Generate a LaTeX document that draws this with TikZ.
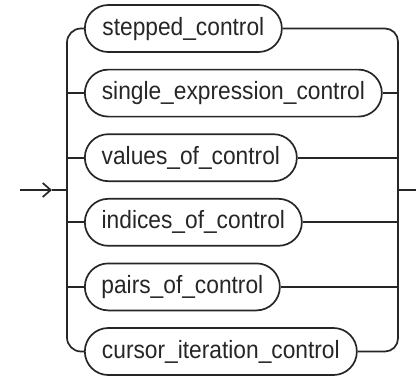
\documentclass[tikz,border=0pt]{standalone}
\usepackage{fontspec}
\setmainfont{Liberation Sans}
\usetikzlibrary{arrows.meta}
\begin{document}
\begin{tikzpicture}[x=1pt,y=-1pt,
  line/.style={line width=1.7pt, draw=black!85},
  term/.style={line, rounded corners=23.4pt, minimum height=47pt, anchor=west, inner sep=0pt,
    text height=18pt, text depth=5pt, font=\fontsize{25}{30}\selectfont, text=black!85},
]
\useasboundingbox (0,0) rectangle (416,378);
\node[term, minimum width=197pt] (n1) at (84,28.5)  {\scalebox{0.91}[1]{stepped\_control}};
\node[term, minimum width=297pt] (n2) at (84,93.1)  {\scalebox{0.91}[1]{single\_expression\_control}};
\node[term, minimum width=212pt] (n3) at (84,157.7) {\scalebox{0.91}[1]{values\_of\_control}};
\node[term, minimum width=217pt] (n4) at (84,222.3) {\scalebox{0.91}[1]{indices\_of\_control}};
\node[term, minimum width=195pt] (n5) at (84,286.9) {\scalebox{0.91}[1]{pairs\_of\_control}};
\node[term, minimum width=272pt] (n6) at (84,351.5) {\scalebox{0.91}[1]{cursor\_iteration\_control}};
\coordinate (start) at (20,190);
\coordinate (tip) at (52,190);
\coordinate (L) at (67,190);
\coordinate (R) at (398,190);
\coordinate (end) at (416,190);
% entry
\draw[line, -{Straight Barb[length=8pt,width=14pt]}] (start) -- (tip);
\draw[line] (tip) -- (L);
% left side
\draw[line, rounded corners=14pt] (L) |- (n1.west);
\draw[line, rounded corners=14pt] (L) |- (n6.west);
\foreach \n in {n2,n3,n4,n5} \draw[line] (L |- \n.west) -- (\n.west);
% right side
\draw[line, rounded corners=13pt] (n1.east) -| (R);
\draw[line, rounded corners=13pt] (n6.east) -| (R);
\foreach \n in {n2,n3,n4,n5} \draw[line] (\n.east) -- (\n.east -| R);
% exit
\draw[line] (R) -- (end);
\end{tikzpicture}
\end{document}
